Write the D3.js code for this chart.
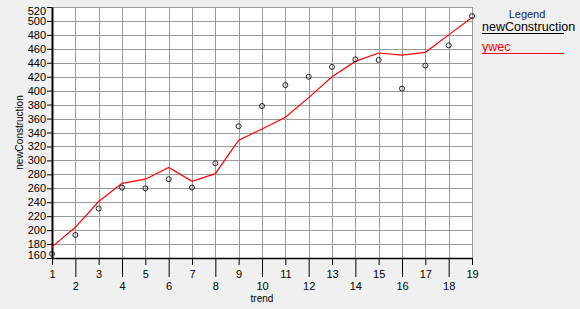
<!DOCTYPE html>
<html>
<head>
<meta charset="utf-8">
<script src="https://cdn.jsdelivr.net/npm/d3@7"></script>
<style>
  body { margin: 0; background: #f0f0f0; }
  svg { display: block; font-family: "Liberation Sans", Arial, sans-serif; }
</style>
</head>
<body>
<svg id="chart" width="580" height="309"></svg>
<script>
// data
const trend = [1, 2, 3, 4, 5, 6, 7, 8, 9, 10, 11, 12, 13, 14, 15, 16, 17, 18, 19];
const newConstruction = [166, 193, 231, 261, 260, 273, 261, 296, 349, 378, 408, 420, 434, 445, 444, 403, 436, 465, 507];
const ywec = [176, 204, 241, 267, 273, 290, 270, 281, 329, 345, 362, 390, 420, 442, 454, 451, 455, 480, 505];
const yTicks = d3.range(160, 521, 20);

const svg = d3.select("#chart");
const plotL = 52, plotR = 472, plotT = 7, plotB = 258;

const x = d3.scaleLinear().domain([1, 19]).range([plotL, plotR]);
const y = d3.scaleLinear().domain([160, 520]).range([plotB, plotT]);

// plot background
svg.append("rect")
  .attr("x", plotL).attr("y", plotT)
  .attr("width", plotR - plotL).attr("height", plotB - plotT)
  .attr("fill", "#fff");

// grid
const grid = svg.append("g").attr("stroke", "#999").attr("stroke-width", 1);
grid.selectAll(".vg").data(trend).enter().append("line")
  .attr("x1", d => Math.round(x(d)) + 0.5).attr("x2", d => Math.round(x(d)) + 0.5)
  .attr("y1", plotT).attr("y2", plotB);
grid.selectAll(".hg").data(yTicks).enter().append("line")
  .attr("x1", plotL).attr("x2", plotR)
  .attr("y1", d => Math.round(y(d)) + 0.5).attr("y2", d => Math.round(y(d)) + 0.5);

// y axis
const yAxis = svg.append("g")
  .attr("transform", `translate(${plotL},0)`)
  .call(d3.axisLeft(y).tickValues(yTicks).tickSize(5).tickPadding(1).tickSizeOuter(0));
yAxis.select(".domain").attr("stroke", "#000").attr("stroke-width", 2);
yAxis.selectAll("text")
  .attr("font-size", 11).attr("fill", "#000")
  .attr("dy", d => d === 520 ? "0.7em" : d === 160 ? "0.05em" : "0.32em");

// x axis: odd ticks short, even ticks long with labels on a second row
const xAxis = svg.append("g")
  .attr("transform", `translate(0,${plotB})`)
  .call(d3.axisBottom(x).tickValues(trend).tickFormat(d3.format("d")).tickSizeOuter(0));
xAxis.select(".domain").attr("stroke", "#000").attr("stroke-width", 1.5);
xAxis.selectAll(".tick line")
  .attr("stroke", "#000")
  .attr("y2", d => d % 2 === 0 ? 19 : 7);
xAxis.selectAll(".tick text")
  .attr("font-size", 11).attr("fill", "#000")
  .attr("dy", null)
  .attr("y", d => d % 2 === 0 ? 32 : 20);

svg.append("text")
  .attr("x", (plotL + plotR) / 2).attr("y", 302)
  .attr("text-anchor", "middle").attr("font-size", 10)
  .text("trend");

svg.append("text")
  .attr("transform", `translate(23,${(plotT + plotB) / 2}) rotate(-90)`)
  .attr("text-anchor", "middle").attr("font-size", 10)
  .text("newConstruction");

// ywec line
const line = d3.line().x((d, i) => x(trend[i])).y(d => y(d));
svg.append("path")
  .datum(ywec)
  .attr("fill", "none").attr("stroke", "#f00").attr("stroke-width", 1.2)
  .attr("d", line);

// newConstruction points
svg.append("g").selectAll("circle")
  .data(newConstruction).enter().append("circle")
  .attr("cx", (d, i) => x(trend[i])).attr("cy", d => y(d))
  .attr("r", 2.5)
  .attr("fill", "none").attr("stroke", "#222").attr("stroke-width", 1);

// legend
svg.append("text")
  .attr("x", 527).attr("y", 18)
  .attr("text-anchor", "middle").attr("font-size", 11).attr("fill", "#1a1a50")
  .text("Legend");
const legendItems = [
  {name: "newConstruction", color: "#000"},
  {name: "ywec", color: "#f00"}
];
const lg = svg.append("g").selectAll("g").data(legendItems).enter().append("g")
  .attr("transform", (d, i) => `translate(482,${31 + i * 20})`);
lg.append("text")
  .attr("x", 0).attr("y", 0)
  .attr("font-size", 12.5).attr("fill", d => d.color)
  .text(d => d.name);
lg.append("line")
  .attr("x1", 0).attr("x2", 82)
  .attr("y1", 2.5).attr("y2", 2.5)
  .attr("stroke", d => d.color).attr("stroke-width", 1);
</script>
</body>
</html>
